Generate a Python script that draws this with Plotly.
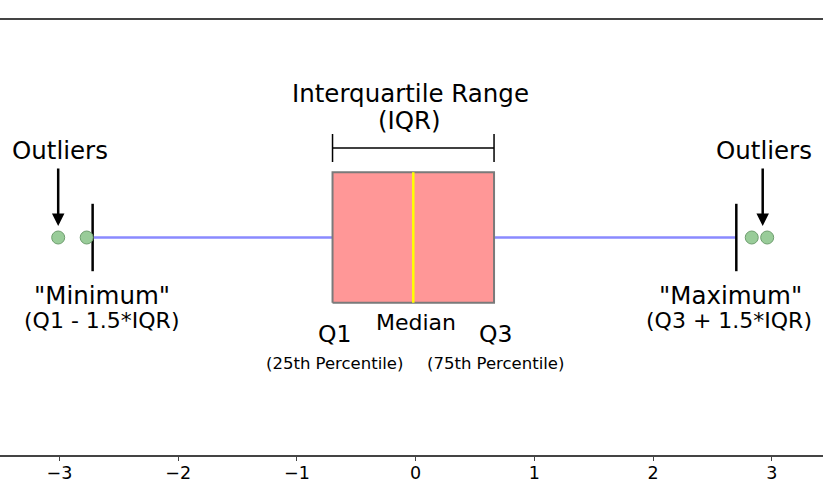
import plotly.graph_objects as go

# ---- data ----
q1 = -0.70
median = -0.02
q3 = 0.66
whisker_low = -2.72
whisker_high = 2.70
outliers_low = [-3.01, -2.77]
outliers_high = [2.83, 2.96]
tick_values = [-3, -2, -1, 0, 1, 2, 3]
tick_labels = ["\u22123", "\u22122", "\u22121", "0", "1", "2", "3"]

# ---- layout geometry ----
W, H = 823, 500
X_RANGE = [-3.50, 3.43]
Y_RANGE = [-1.0, 1.0]
M_T, M_B = 20, 45
BOX_H = 0.30
CAP_H = 0.155
FONT = "DejaVu Sans"


def dx(px):
    return X_RANGE[0] + px / W * (X_RANGE[1] - X_RANGE[0])


def dy(py):
    ph = H - M_T - M_B
    return Y_RANGE[1] - (py - M_T) / ph * (Y_RANGE[1] - Y_RANGE[0])


fig = go.Figure()

# whiskers
for a, b in [(whisker_low, q1), (q3, whisker_high)]:
    fig.add_trace(go.Scatter(x=[a, b], y=[0, 0], mode="lines",
                             line=dict(color="#8a8aff", width=2.5),
                             hoverinfo="skip", showlegend=False))

# box
fig.add_trace(go.Scatter(x=[q1, q3, q3, q1, q1],
                         y=[-BOX_H, -BOX_H, BOX_H, BOX_H, -BOX_H],
                         mode="lines", fill="toself", fillcolor="#ff9797",
                         line=dict(color="#7a7a7a", width=2),
                         hoverinfo="skip", showlegend=False))

# median
fig.add_trace(go.Scatter(x=[median, median], y=[-BOX_H, BOX_H], mode="lines",
                         line=dict(color="#ffff00", width=2.5),
                         hoverinfo="skip", showlegend=False))

# caps
for w in [whisker_low, whisker_high]:
    fig.add_trace(go.Scatter(x=[w, w], y=[-CAP_H, CAP_H], mode="lines",
                             line=dict(color="black", width=2.5),
                             hoverinfo="skip", showlegend=False))

# outliers
fig.add_trace(go.Scatter(x=outliers_low + outliers_high,
                         y=[0] * (len(outliers_low) + len(outliers_high)),
                         mode="markers",
                         marker=dict(size=13, color="#99cc99",
                                     line=dict(color="#6e9e6e", width=1)),
                         hoverinfo="skip", showlegend=False))

# IQR bracket
yb = dy(148)
tb_top, tb_bot = dy(134), dy(162)
fig.add_trace(go.Scatter(x=[q1, q3], y=[yb, yb], mode="lines",
                         line=dict(color="black", width=1.5),
                         hoverinfo="skip", showlegend=False))
for e in [q1, q3]:
    fig.add_trace(go.Scatter(x=[e, e], y=[tb_bot, tb_top], mode="lines",
                             line=dict(color="black", width=1.5),
                             hoverinfo="skip", showlegend=False))

# arrows
for xa in [outliers_low[0], dx(762.7)]:
    fig.add_annotation(x=xa, y=dy(226), ax=xa, ay=dy(167),
                       xref="x", yref="y", axref="x", ayref="y",
                       showarrow=True, arrowhead=2, arrowsize=1,
                       arrowwidth=2.5, arrowcolor="black", text="")

labels = [
    ("Interquartile Range", 410, 93.5, 24.5),
    ("(IQR)", 409, 120, 24.5),
    ("Outliers", 59.5, 150, 24.5),
    ("Outliers", 764, 150, 24.5),
    ("\"Minimum\"", 101.5, 295, 24.5),
    ("(Q1 - 1.5*IQR)", 101.5, 320, 22),
    ("\"Maximum\"", 730, 295, 24.5),
    ("(Q3 + 1.5*IQR)", 729, 320, 22),
    ("Q1", 334, 334, 23.5),
    ("Median", 415.5, 322, 22),
    ("Q3", 495, 334, 23.5),
    ("(25th Percentile)", 334.7, 363, 16.5),
    ("(75th Percentile)", 495.3, 363, 16.5),
]
for t, px, py, fs in labels:
    fig.add_annotation(x=dx(px), y=dy(py), xref="x", yref="y", text=t,
                       showarrow=False, xanchor="center", yanchor="middle",
                       font=dict(family=FONT, size=fs, color="black"))

fig.update_layout(
    width=W, height=H,
    margin=dict(l=0, r=0, t=M_T, b=M_B, pad=0),
    paper_bgcolor="white", plot_bgcolor="white",
    font=dict(family=FONT, color="black"),
    xaxis=dict(range=X_RANGE, tickvals=tick_values, ticktext=tick_labels,
               showgrid=False, zeroline=False, showline=True, mirror=True,
               linecolor="#444444", linewidth=1.5,
               ticks="outside", ticklen=4, tickwidth=1.2, tickcolor="#444444",
               ticklabelstandoff=-3,
               tickfont=dict(family=FONT, size=17.5, color="black")),
    yaxis=dict(range=Y_RANGE, visible=False, showgrid=False, zeroline=False),
    showlegend=False,
)

fig.write_html("out.html")
